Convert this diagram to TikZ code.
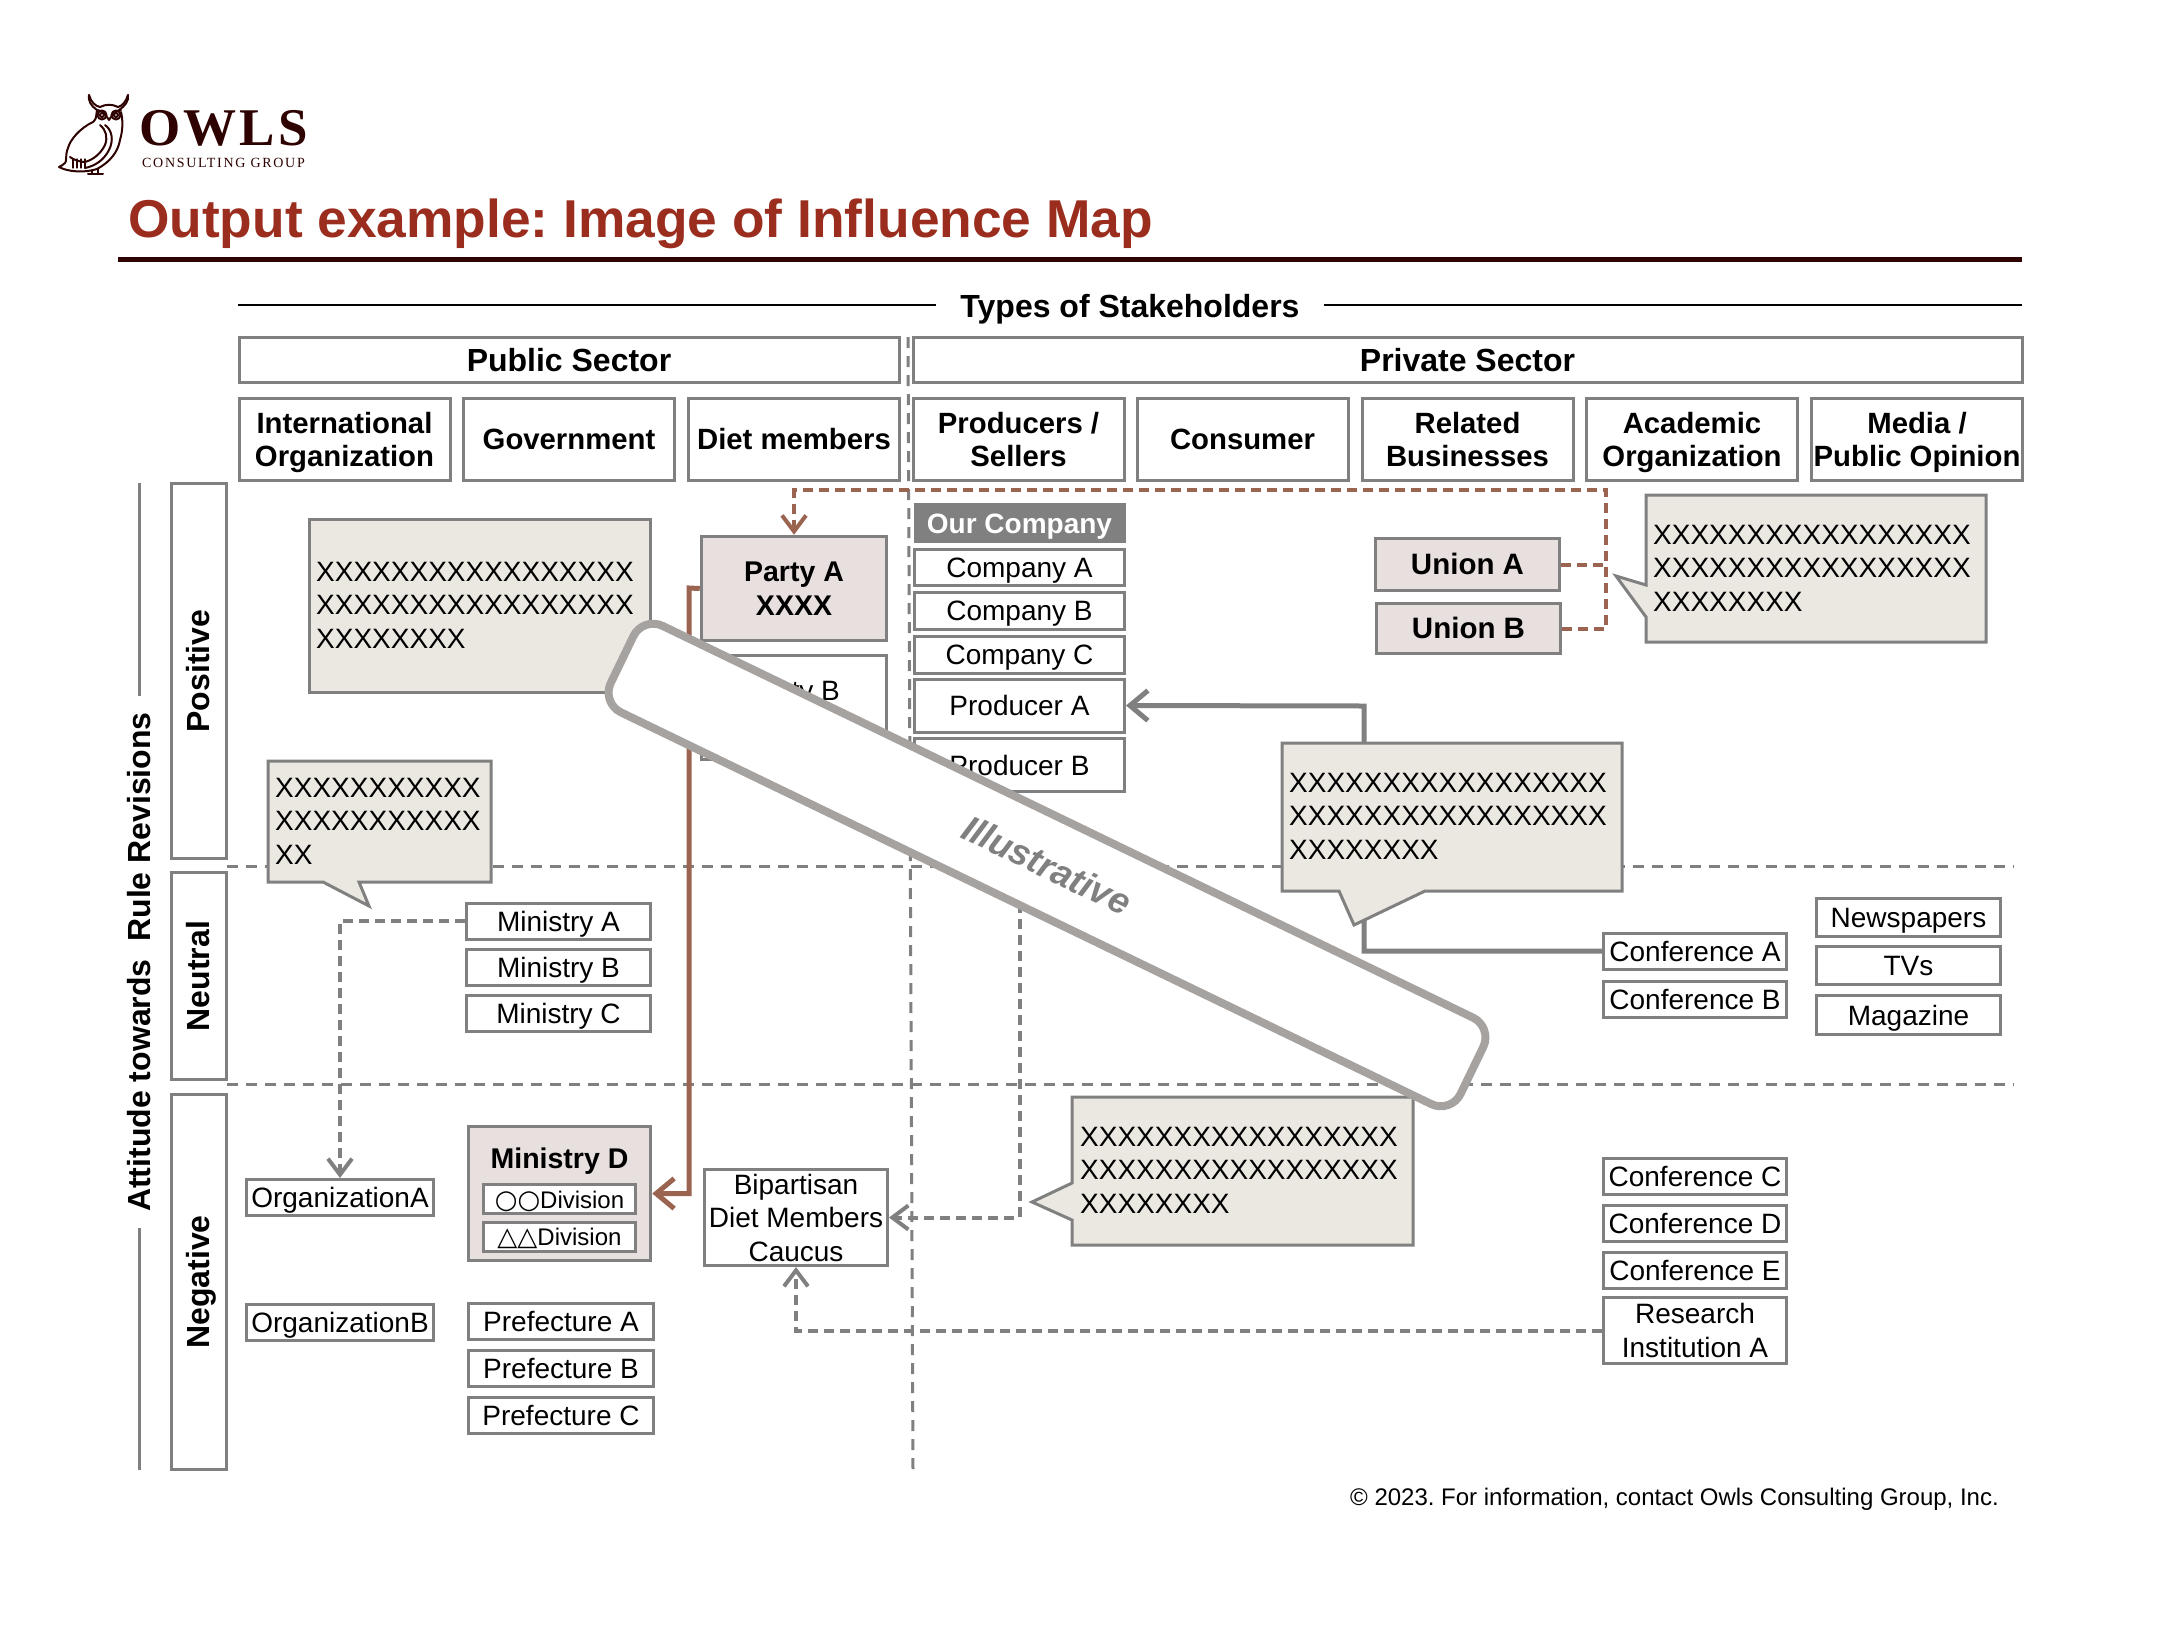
\documentclass[tikz,border=0pt]{standalone}
\usepackage{fontspec}
\setmainfont{Liberation Sans}
\newfontfamily\logofont[LetterSpace=6]{Liberation Serif}
\newfontfamily\logosmall[LetterSpace=12]{Liberation Serif}
\newfontfamily\symbolfont{DejaVu Sans}
\usetikzlibrary{arrows.meta}
\definecolor{titlered}{RGB}{155, 45, 30}
\definecolor{darkmaroon}{RGB}{46, 2, 0}
\definecolor{linegray}{RGB}{128, 128, 128}
\definecolor{bannergray}{RGB}{166, 162, 160}
\definecolor{notefill}{RGB}{235, 231, 225}
\definecolor{tintfill}{RGB}{232, 223, 223}
\definecolor{linkbrown}{RGB}{155, 100, 80}

\begin{document}
\frenchspacing
\begin{tikzpicture}[
  x=1pt, y=-1pt,
  oneline/.style={text height=20pt, text depth=0pt},
  size28/.style={font=\fontsize{28}{33.5}\selectfont},
  headbox/.style={draw=linegray, line width=3pt, fill=white, inner sep=0pt, align=center, font=\bfseries\fontsize{29.3}{33.5}\selectfont, minimum width=211pt, minimum height=82pt},
  sectorbox/.style={draw=linegray, line width=3pt, fill=white, inner sep=0pt, text height=23pt, text depth=0pt, font=\bfseries\fontsize{32}{33.5}\selectfont, minimum height=45pt},
  attbox/.style={draw=linegray, line width=3pt, fill=white, inner sep=0pt, rotate=90, font=\bfseries\fontsize{32}{33.5}\selectfont, text height=22pt, text depth=0pt, minimum height=55pt},
  plainbox/.style={draw=linegray, line width=3pt, fill=white, inner sep=0pt, align=center, size28, minimum width=184pt, minimum height=36pt},
  linebox/.style={plainbox, oneline},
  tintbox/.style={draw=linegray, line width=3.5pt, fill=tintfill, inner sep=0pt, align=center, font=\bfseries\fontsize{28.5}{33.5}\selectfont},
  notebox/.style={draw=linegray, line width=3pt, fill=notefill, line join=miter},
  notetext/.style={anchor=west, align=left, inner sep=0pt, size28},
  gridline/.style={linegray, line width=3pt, dash pattern=on 11pt off 8pt},
  graylink/.style={linegray, line width=4pt, dash pattern=on 10pt off 6pt},
  brownlink/.style={linkbrown, line width=4pt, dash pattern=on 10pt off 6pt},
  tipthin/.style={-{Straight Barb[length=16pt,width=24pt,line width=4pt]}},
  tipthick/.style={-{Straight Barb[length=18pt,width=30pt,line width=5pt]}},
  owlline/.style={darkmaroon, line width=2pt, line cap=round, line join=round},
]
\useasboundingbox (0,0) rectangle (2182,1644);

% Logo
\draw[owlline] (97,110) .. controls (91,106) and (88,101) .. (89,95);
\draw[owlline] (119,110) .. controls (125,106) and (129,101) .. (128,95);
\draw[owlline] (89,95) .. controls (91,102) and (95,106) .. (100,107) .. controls (106,104) and (112,104) .. (118,107) .. controls (122,106) and (126,102) .. (128,95);
\draw[owlline] (97,110) .. controls (96,115) and (97,119) .. (93,122) .. controls (80,128) and (70,140) .. (68,148) .. controls (65,155) and (67,162) .. (65,163) .. controls (63,165) and (61,166) .. (59,167) .. controls (68,172) and (85,173) .. (97,169) .. controls (110,162) and (118,152) .. (120,140) .. controls (123,130) and (123,120) .. (121,112);
\draw[owlline] (100,125) .. controls (106,130) and (108,137) .. (105,145) .. controls (100,155) and (92,160) .. (85,162) .. controls (80,162) and (74,160) .. (70,157);
\draw[owlline] (105,125) .. controls (112,130) and (114,140) .. (109,150) .. controls (104,160) and (95,166) .. (85,168);
\draw[owlline] (97,110) .. controls (102,110) and (106,115) .. (109,120) .. controls (112,115) and (116,110) .. (121,110);
\draw[owlline] (102,115) circle (4.5pt);
\draw[owlline] (116,115) circle (4.5pt);
\draw[owlline] (102,115) circle (2pt);
\draw[owlline] (116,115) circle (2pt);
\foreach \stripe in {73,77,81,85} {
  \draw[owlline, line width=1.2pt] (\stripe,159) -- (\stripe,168);
}
\draw[owlline] (92,170) -- (92,174);
\draw[owlline] (98,169) -- (98,174);
\draw[owlline] (88,174) -- (103,174);
\node[anchor=base west, inner sep=0pt, text=darkmaroon, font=\logofont\bfseries\fontsize{53}{53}\selectfont] (owls) at (139,145) {OWLS};
\node[anchor=base west, inner sep=0pt, text=darkmaroon, font=\logosmall\fontsize{14}{14}\selectfont] (group) at (142,167) {CONSULTING GROUP};

% Title
\node[anchor=base west, inner sep=0pt, text=titlered, font=\bfseries\fontsize{53.3}{60}\selectfont] (title) at (128,237) {Output example: Image of Influence Map};
\coordinate (ruleleft) at (118,259);
\coordinate (ruleright) at (2022,259);
\draw[darkmaroon, line width=5pt] (ruleleft) -- (ruleright);

% Stakeholder header
\node[inner xsep=24pt, inner ysep=0pt, oneline, font=\bfseries\fontsize{32}{34}\selectfont] (types) at (1130,307) {Types of Stakeholders};
\coordinate (typesleft) at (238,305);
\coordinate (typesright) at (2022,305);
\draw[line width=2pt] (typesleft) -- (typesleft -| types.west);
\draw[line width=2pt] (types.east |- typesright) -- (typesright);
\node[sectorbox, minimum width=660pt] (public) at (569,360) {Public Sector};
\node[sectorbox, minimum width=1109pt] (private) at (1467.5,360) {Private Sector};
\node[headbox] (intl) at (344.5,439.5) {International\\\smash{Organization}};
\node[headbox, oneline] (gov) at (569,439.5) {Government};
\node[headbox, oneline] (diet) at (794,439.5) {Diet members};
\node[headbox] (prod) at (1018.5,439.5) {Producers /\\Sellers};
\node[headbox, oneline] (cons) at (1242.5,439.5) {Consumer};
\node[headbox] (rel) at (1467.5,439.5) {Related\\Businesses};
\node[headbox] (acad) at (1692,439.5) {Academic\\\smash{Organization}};
\node[headbox] (media) at (1917,439.5) {Media /\\\smash{Public Opinion}};

% Attitude axis
\node[rotate=90, inner xsep=16pt, inner ysep=0pt, font=\bfseries\fontsize{32}{33}\selectfont] (axis) at (139,962) {Attitude towards\ \ Rule Revisions};
\coordinate (axistop) at (139,483);
\coordinate (axisbottom) at (139,1470);
\draw[linegray, line width=3pt] (axistop) -- (axis.east);
\draw[linegray, line width=3pt] (axis.west) -- (axisbottom);
\node[attbox, minimum width=375pt] (positive) at (198.5,671) {Positive};
\node[attbox, minimum width=207pt] (neutral) at (198.5,976) {Neutral};
\node[attbox, minimum width=375pt] (negative) at (198.5,1282) {Negative};

% Grid lines
\coordinate (gridtop) at (908,337);
\coordinate (gridbottom) at (913,1470);
\draw[gridline] (gridtop) -- (gridbottom);
\coordinate (midleft) at (227,866);
\coordinate (midright) at (2014,866);
\coordinate (lowleft) at (227,1084);
\coordinate (lowright) at (2014,1084);
\draw[gridline] (midleft) -- (midright);
\draw[gridline] (lowleft) -- (lowright);

% Stakeholder boxes, public side
\node[tintbox, minimum width=185pt, minimum height=104pt] (partya) at (794,588.5) {Party A\\XXXX};
\node[plainbox, minimum width=185pt, minimum height=104pt] (partyb) at (794,707.5) {Party B\\\phantom{X}};
\node[linebox] (mina) at (558.5,921) {Ministry A};
\node[linebox] (minb) at (558.5,967) {Ministry B};
\node[linebox] (minc) at (558.5,1013.5) {Ministry C};
\node[linebox, minimum width=187pt] (orga) at (340,1197.5) {OrganizationA};
\node[linebox, minimum width=187pt] (orgb) at (340,1322.5) {OrganizationB};
\node[tintbox, minimum width=182pt, minimum height=134pt] (mind) at (559.5,1193.5) {};
\node[tintbox, oneline, draw=none, fill=none] (mindname) at (559.5,1158) {Ministry D};
\node[plainbox, text height=18pt, text depth=0pt, minimum width=152pt, minimum height=29pt, font=\fontsize{24}{28}\selectfont] (divcircle) at (559.5,1199) {{\symbolfont\fontsize{26}{28}\selectfont ○○}Division};
\node[plainbox, text height=18pt, text depth=0pt, minimum width=152pt, minimum height=29pt, font=\fontsize{24}{28}\selectfont] (divtriangle) at (559.5,1236.5) {{\symbolfont\fontsize{26}{28}\selectfont △△}Division};
\node[linebox, minimum width=185pt] (prefa) at (561,1321.5) {Prefecture A};
\node[linebox, minimum width=185pt] (prefb) at (561,1368.5) {Prefecture B};
\node[linebox, minimum width=185pt] (prefc) at (561,1415) {Prefecture C};
\node[plainbox, minimum width=183pt, minimum height=96pt] (bipartisan) at (796,1217.5) {Bipartisan\\Diet Members\\Caucus};

% Stakeholder boxes, private side
\node[draw=linegray, line width=3pt, fill=linegray, text=white, inner sep=0pt, oneline, font=\bfseries\fontsize{28}{33}\selectfont, minimum width=209pt, minimum height=37pt] (ourco) at (1019.5,523) {Our Company};
\node[linebox, minimum width=210pt] (coa) at (1019.5,567) {Company A};
\node[linebox, minimum width=210pt, minimum height=37pt] (cob) at (1019.5,610.5) {Company B};
\node[linebox, minimum width=210pt, minimum height=37pt] (coc) at (1019.5,654.5) {Company C};
\node[linebox, minimum width=210pt, minimum height=53pt] (proda) at (1019.5,705.5) {Producer A};
\node[linebox, minimum width=210pt, minimum height=53pt] (prodb) at (1019.5,765) {Producer B};
\node[tintbox, oneline, line width=3pt, font=\bfseries\fontsize{29.5}{33.5}\selectfont, minimum width=184pt, minimum height=52pt] (uniona) at (1467.5,564.5) {Union A};
\node[tintbox, oneline, line width=3pt, font=\bfseries\fontsize{29.5}{33.5}\selectfont, minimum width=184pt, minimum height=50pt] (unionb) at (1468.5,628.5) {Union B};
\node[linebox, minimum width=183pt] (confa) at (1695,951) {Conference A};
\node[linebox, minimum width=183pt] (confb) at (1695,999) {Conference B};
\node[linebox, minimum width=183pt] (confc) at (1695,1176) {Conference C};
\node[linebox, minimum width=183pt] (confd) at (1695,1223) {Conference D};
\node[linebox, minimum width=183pt] (confe) at (1695,1270) {Conference E};
\node[plainbox, minimum width=183pt, minimum height=66pt] (research) at (1695,1330.5) {Research\\Institution A};
\node[linebox, minimum height=38pt] (news) at (1908.5,917.5) {Newspapers};
\node[linebox, minimum height=38pt] (tvs) at (1908.5,965.5) {TVs};
\node[linebox, minimum height=39pt] (mag) at (1908.5,1015) {Magazine};

% Links
\coordinate (unionjoin) at (1606,490);
\draw[brownlink, tipthin] (unionb.east) -| (unionjoin) -| (partya.north);
\draw[brownlink] (uniona.east) -- (uniona.east -| unionjoin);
\coordinate (brownbend) at (689,588);
\draw[linkbrown, line width=5pt, tipthick] (partya.west) -- (brownbend) |- (mind.east);
\coordinate (graybend) at (1364,706);
\draw[linegray, line width=5pt, tipthick] (confa.west) -| (graybend) -- (proda.east);
\draw[graylink, tipthin] (mina.west) -| (orga.north);
\draw[graylink, tipthin, shorten <=30pt] (prodb.south) |- (bipartisan.east);
\draw[graylink, tipthin] (research.west) -| (bipartisan.south);

% Comment balloons
\draw[notebox] (309,519) rectangle (650,692);
\node[notetext] (note1) at (316,605) {XXXXXXXXXXXXXXXXX\\XXXXXXXXXXXXXXXXX\\XXXXXXXX};
\draw[notebox] (268,761) -- (491,761) -- (491,882) -- (359,882) -- (369,906) -- (323,882) -- (268,882) -- cycle;
\node[notetext] (note2) at (275,821) {XXXXXXXXXXX\\XXXXXXXXXXX\\XX};
\draw[notebox] (1646,495) -- (1986,495) -- (1986,642) -- (1646,642) -- (1646,617) -- (1616,576) -- (1646,585) -- cycle;
\node[notetext] (note3) at (1653,568) {XXXXXXXXXXXXXXXXX\\XXXXXXXXXXXXXXXXX\\XXXXXXXX};
\draw[notebox] (1282,743) -- (1622,743) -- (1622,891) -- (1425,891) -- (1354,925) -- (1339,891) -- (1282,891) -- cycle;
\node[notetext] (note4) at (1289,816) {XXXXXXXXXXXXXXXXX\\XXXXXXXXXXXXXXXXX\\XXXXXXXX};
\draw[notebox] (1072,1097) -- (1413,1097) -- (1413,1245) -- (1072,1245) -- (1072,1220) -- (1032,1202) -- (1072,1183) -- cycle;
\node[notetext] (note5) at (1080,1170) {XXXXXXXXXXXXXXXXX\\XXXXXXXXXXXXXXXXX\\XXXXXXXX};

% Banner
\node[draw=bannergray, line width=8pt, fill=white, rounded corners=22pt, rotate=-25.8, minimum width=944pt, minimum height=96pt, inner sep=0pt, text=linegray, font=\bfseries\itshape\fontsize{36.5}{40}\selectfont] (banner) at (1047,865) {Illustrative};

% Footer
\node[anchor=base east, inner sep=0pt, font=\fontsize{24}{28}\selectfont] (footer) at (1999,1505) {© 2023. For information, contact Owls Consulting Group, Inc.};
\end{tikzpicture}
\end{document}
